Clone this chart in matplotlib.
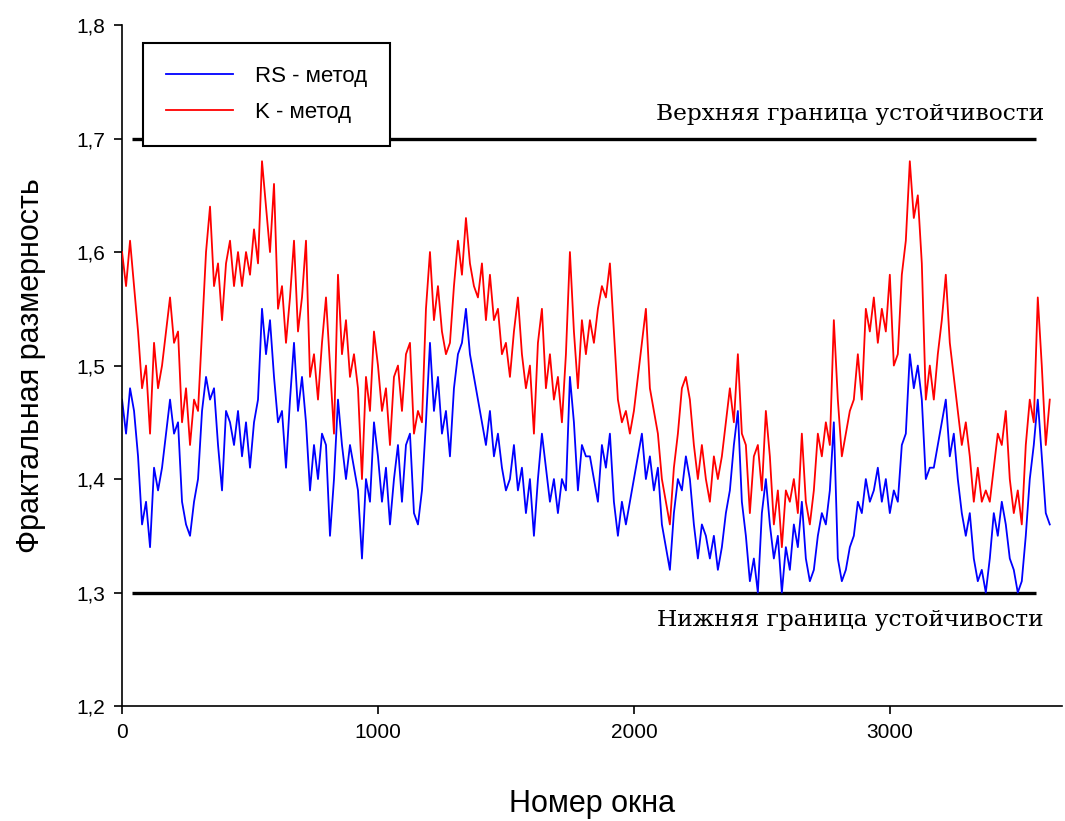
import numpy as np
import matplotlib
matplotlib.use("Agg")
import matplotlib.pyplot as plt

# ---- data ----
rs_values = [
    1.47, 1.44, 1.48, 1.46, 1.42, 1.36, 1.38, 1.34, 1.41, 1.39, 1.41, 1.44, 1.47, 1.44, 1.45,
    1.38, 1.36, 1.35, 1.38, 1.40, 1.46, 1.49, 1.47, 1.48, 1.43, 1.39, 1.46, 1.45, 1.43, 1.46,
    1.42, 1.45, 1.41, 1.45, 1.47, 1.55, 1.51, 1.54, 1.49, 1.45, 1.46, 1.41, 1.47, 1.52, 1.46,
    1.49, 1.45, 1.39, 1.43, 1.40, 1.44, 1.43, 1.35, 1.40, 1.47, 1.43, 1.40, 1.43, 1.41,
    1.39, 1.33, 1.40, 1.38, 1.45, 1.42, 1.38, 1.41, 1.36, 1.40, 1.43, 1.38, 1.43, 1.44, 1.37,
    1.36, 1.39, 1.45, 1.52, 1.46, 1.49, 1.44, 1.46, 1.42, 1.48, 1.51, 1.52, 1.55, 1.51,
    1.49, 1.47, 1.45, 1.43, 1.46, 1.42, 1.44, 1.41, 1.39, 1.40, 1.43, 1.39, 1.41, 1.37, 1.40,
    1.35, 1.40, 1.44, 1.41, 1.38, 1.40, 1.37, 1.40, 1.39, 1.49, 1.45, 1.39, 1.43, 1.42,
    1.42, 1.40, 1.38, 1.43, 1.41, 1.44, 1.38, 1.35, 1.38, 1.36, 1.38, 1.40, 1.42, 1.44, 1.40,
    1.42, 1.39, 1.41, 1.36, 1.34, 1.32, 1.37, 1.40, 1.39, 1.42, 1.40, 1.36, 1.33, 1.36,
    1.35, 1.33, 1.35, 1.32, 1.34, 1.37, 1.39, 1.43, 1.46, 1.38, 1.35, 1.31, 1.33, 1.30, 1.37,
    1.40, 1.36, 1.33, 1.35, 1.30, 1.34, 1.32, 1.36, 1.34, 1.38, 1.33, 1.31, 1.32,
    1.35, 1.37, 1.36, 1.39, 1.45, 1.33, 1.31, 1.32, 1.34, 1.35, 1.38, 1.37, 1.40, 1.38, 1.39,
    1.41, 1.38, 1.40, 1.37, 1.39, 1.38, 1.43, 1.44, 1.51, 1.48, 1.50, 1.47, 1.40, 1.41,
    1.41, 1.43, 1.45, 1.47, 1.42, 1.44, 1.40, 1.37, 1.35, 1.37, 1.33, 1.31, 1.32, 1.30, 1.33,
    1.37, 1.35, 1.38, 1.36, 1.33, 1.32, 1.30, 1.31, 1.35, 1.40, 1.43, 1.47, 1.42, 1.37, 1.36,
]
k_values = [
    1.60, 1.57, 1.61, 1.57, 1.53, 1.48, 1.50, 1.44, 1.52, 1.48, 1.50, 1.53, 1.56, 1.52, 1.53,
    1.45, 1.48, 1.43, 1.47, 1.46, 1.53, 1.60, 1.64, 1.57, 1.59, 1.54, 1.59, 1.61, 1.57, 1.60,
    1.57, 1.60, 1.58, 1.62, 1.59, 1.68, 1.64, 1.60, 1.66, 1.55, 1.57, 1.52, 1.56, 1.61, 1.53,
    1.56, 1.61, 1.49, 1.51, 1.47, 1.52, 1.56, 1.50, 1.44, 1.58, 1.51, 1.54, 1.49, 1.51,
    1.48, 1.40, 1.49, 1.46, 1.53, 1.50, 1.46, 1.48, 1.43, 1.49, 1.50, 1.46, 1.51, 1.52, 1.44,
    1.46, 1.45, 1.55, 1.60, 1.54, 1.57, 1.53, 1.51, 1.52, 1.57, 1.61, 1.58, 1.63, 1.59,
    1.57, 1.56, 1.59, 1.54, 1.58, 1.54, 1.55, 1.51, 1.52, 1.49, 1.53, 1.56, 1.51, 1.48, 1.50,
    1.44, 1.52, 1.55, 1.48, 1.51, 1.47, 1.49, 1.45, 1.51, 1.60, 1.53, 1.48, 1.54, 1.51,
    1.54, 1.52, 1.55, 1.57, 1.56, 1.59, 1.53, 1.47, 1.45, 1.46, 1.44, 1.46, 1.49, 1.52, 1.55,
    1.48, 1.46, 1.44, 1.40, 1.38, 1.36, 1.41, 1.44, 1.48, 1.49, 1.47, 1.43, 1.40, 1.43,
    1.40, 1.38, 1.42, 1.40, 1.42, 1.45, 1.48, 1.45, 1.51, 1.44, 1.43, 1.37, 1.42, 1.43, 1.39,
    1.46, 1.42, 1.36, 1.39, 1.34, 1.39, 1.38, 1.40, 1.37, 1.44, 1.38, 1.36, 1.39,
    1.44, 1.42, 1.45, 1.43, 1.54, 1.47, 1.42, 1.44, 1.46, 1.47, 1.51, 1.47, 1.55, 1.53, 1.56,
    1.52, 1.55, 1.53, 1.58, 1.50, 1.51, 1.58, 1.61, 1.68, 1.63, 1.65, 1.59, 1.47, 1.50,
    1.47, 1.51, 1.54, 1.58, 1.52, 1.49, 1.46, 1.43, 1.45, 1.42, 1.38, 1.41, 1.38, 1.39, 1.38,
    1.41, 1.44, 1.43, 1.46, 1.40, 1.37, 1.39, 1.36, 1.43, 1.47, 1.45, 1.56, 1.50, 1.43, 1.47,
]
window_start, window_end = 0, 3625
bound_x = [40, 3570]
upper_bound = 1.7
lower_bound = 1.3
series_labels = ["RS - метод", "K - метод"]
x_ticks = [0, 1000, 2000, 3000]
x_tick_labels = ["0", "1000", "2000", "3000"]
y_ticks = [1.2, 1.3, 1.4, 1.5, 1.6, 1.7, 1.8]
y_tick_labels = ["1,2", "1,3", "1,4", "1,5", "1,6", "1,7", "1,8"]

windows = np.linspace(window_start, window_end, len(rs_values))

plt.rcParams["font.family"] = ["Liberation Sans", "DejaVu Sans"]

fig = plt.figure(figsize=(10.65, 8.21), dpi=100)
ax = fig.add_axes([0.1146, 0.140, 0.8824, 0.8295])

ax.plot(bound_x, [upper_bound, upper_bound], color="black", lw=2.4, zorder=1, solid_capstyle="butt")
ax.plot(bound_x, [lower_bound, lower_bound], color="black", lw=2.4, zorder=1, solid_capstyle="butt")
ax.plot(windows, rs_values, color="#0000ff", lw=1.3, label=series_labels[0], zorder=2)
ax.plot(windows, k_values, color="#ff0000", lw=1.3, label=series_labels[1], zorder=3)

ax.set_xlim(0, 3672)
ax.set_ylim(1.2, 1.8)
ax.set_xticks(x_ticks)
ax.set_xticklabels(x_tick_labels)
ax.set_yticks(y_ticks)
ax.set_yticklabels(y_tick_labels)
ax.tick_params(direction="out", length=6, width=1.2, labelsize=15, pad=6)
for s in ["top", "right"]:
    ax.spines[s].set_visible(False)
for s in ["left", "bottom"]:
    ax.spines[s].set_linewidth(1.2)

ax.set_xlabel("Номер окна", fontsize=22, labelpad=34)
ax.set_ylabel("Фрактальная размерность", fontsize=22, labelpad=22)

ax.text(3605, 1.712, "Верхняя граница устойчивости", family=["DejaVu Serif"],
        fontsize=16.8, ha="right", va="bottom")
ax.text(3600, 1.276, "Нижняя граница устойчивости", family=["DejaVu Serif"],
        fontsize=16.8, ha="right", va="center")

leg = ax.legend(loc="upper left", bbox_to_anchor=(0.022, 0.974), fancybox=False,
                edgecolor="black", framealpha=1, fontsize=16, borderpad=1.05,
                handlelength=3.0, handletextpad=1.0, labelspacing=0.65, borderaxespad=0)
leg.get_frame().set_linewidth(1.5)
leg.set_zorder(5)

fig.savefig("out.png", dpi=100)
